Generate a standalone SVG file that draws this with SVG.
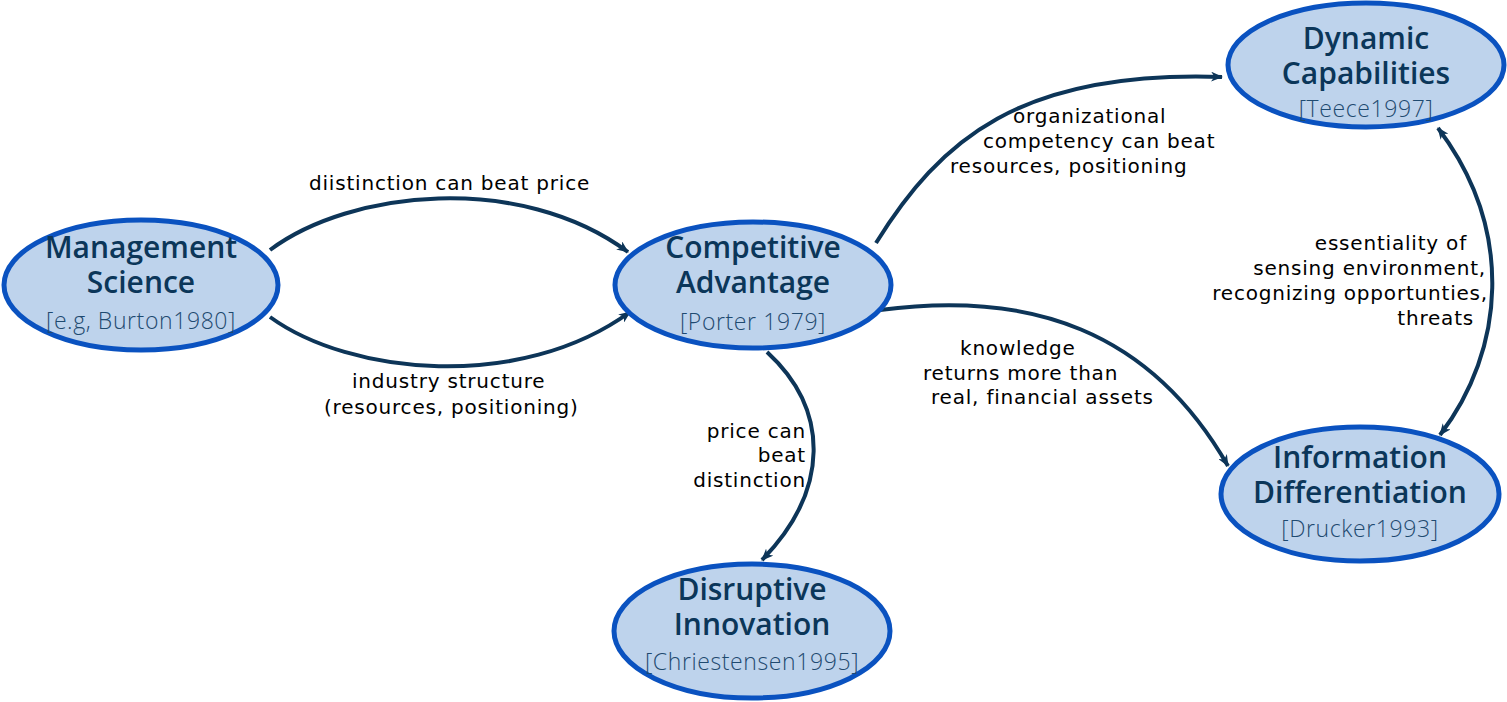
<svg xmlns="http://www.w3.org/2000/svg" width="1507" height="702" viewBox="0 0 1507 702">
<style>
.node ellipse{fill:#bed3ec;stroke:#0a52c0;stroke-width:5}
.t{font-family:"Open Sans","Noto Sans",sans-serif;font-size:30px;fill:#0b3659;text-anchor:middle;font-weight:600}
.s{font-family:"Open Sans","Noto Sans",sans-serif;font-size:23px;fill:#1f4a70;text-anchor:middle;font-weight:300;letter-spacing:0.6px}
.e{fill:none;stroke:#0d3558;stroke-width:4}
.l{font-family:"DejaVu Sans","Noto Sans",sans-serif;font-size:20px;fill:#000;letter-spacing:0.8px}
</style>
<defs>
<marker id="ah" viewBox="0 0 12 10" refX="11" refY="5" markerWidth="12" markerHeight="10" markerUnits="userSpaceOnUse" orient="auto-start-reverse">
<path d="M0,0 L12,5 L0,10 L3.5,5 z" fill="#0d3558"/>
</marker>
</defs>
<g id="connectors">
<path class="e" d="M270,250 C350,190 520,172 628,252" marker-end="url(#ah)"/>
<path class="e" d="M270,317 C350,375 520,392 630,312" marker-end="url(#ah)"/>
<path class="e" d="M876,243 C940,140 1020,70 1222,77" marker-end="url(#ah)"/>
<path class="e" d="M880,310 C1030,290 1150,330 1228,466" marker-end="url(#ah)"/>
<path class="e" d="M767,352 C830,410 830,490 762,560" marker-end="url(#ah)"/>
<path class="e" d="M1438,128 C1515,230 1505,350 1440,435" marker-start="url(#ah)" marker-end="url(#ah)"/>
<text class="l" x="309" y="190">diistinction can beat price</text>
<text class="l" x="352" y="388">industry structure</text>
<text class="l" x="324" y="414">(resources, positioning)</text>
<text class="l" x="1013" y="123">organizational</text>
<text class="l" x="983" y="148">competency can beat</text>
<text class="l" x="950" y="173">resources, positioning</text>
<text class="l" x="960" y="355">knowledge</text>
<text class="l" x="923" y="380">returns more than</text>
<text class="l" x="931" y="404">real, financial assets</text>
<text class="l" x="806" y="438" text-anchor="end">price can</text>
<text class="l" x="806" y="462" text-anchor="end">beat</text>
<text class="l" x="806" y="487" text-anchor="end">distinction</text>
<text class="l" x="1467" y="250" text-anchor="end">essentiality of</text>
<text class="l" x="1486" y="275" text-anchor="end">sensing environment,</text>
<text class="l" x="1488" y="300" text-anchor="end">recognizing opportunties,</text>
<text class="l" x="1474" y="325" text-anchor="end">threats</text>
</g>
<g id="management" class="node">
<ellipse cx="141" cy="285" rx="137" ry="65"/>
<text class="t" x="141" y="258">Management</text>
<text class="t" x="141" y="293">Science</text>
<text class="s" x="141" y="329">[e.g, Burton1980]</text>
</g>
<g id="competitive" class="node">
<ellipse cx="753" cy="285" rx="138" ry="63"/>
<text class="t" x="753" y="258">Competitive</text>
<text class="t" x="753" y="293">Advantage</text>
<text class="s" x="753" y="330">[Porter 1979]</text>
</g>
<g id="dynamic" class="node">
<ellipse cx="1366" cy="65" rx="138" ry="62"/>
<text class="t" x="1366" y="49">Dynamic</text>
<text class="t" x="1366" y="84">Capabilities</text>
<text class="s" x="1366" y="117">[Teece1997]</text>
</g>
<g id="information" class="node">
<ellipse cx="1360" cy="494" rx="139" ry="67"/>
<text class="t" x="1360" y="468">Information</text>
<text class="t" x="1360" y="503">Differentiation</text>
<text class="s" x="1360" y="537">[Drucker1993]</text>
</g>
<g id="disruptive" class="node">
<ellipse cx="752" cy="631" rx="138" ry="67"/>
<text class="t" x="752" y="600">Disruptive</text>
<text class="t" x="752" y="635">Innovation</text>
<text class="s" x="752" y="670">[Chriestensen1995]</text>
</g>
</svg>
